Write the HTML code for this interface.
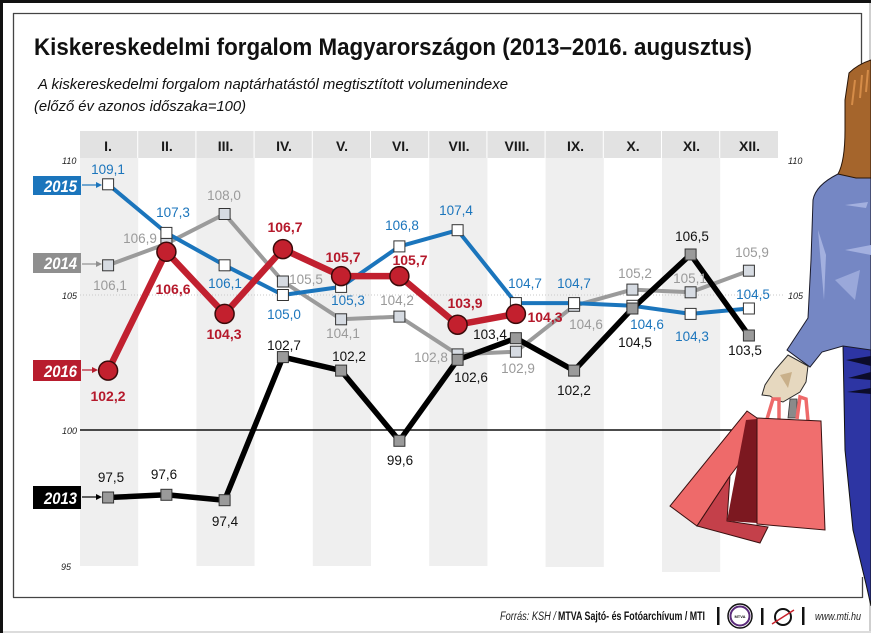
<!DOCTYPE html>
<html>
<head>
<meta charset="utf-8">
<style>
html,body{margin:0;padding:0;background:#fff;}
svg{display:block;}
text{font-family:"Liberation Sans",Arial,sans-serif;}
</style>
</head>
<body>
<svg width="871" height="633" viewBox="0 0 871 633" xmlns="http://www.w3.org/2000/svg">
<rect x="0" y="0" width="871" height="633" fill="#fff"/>
<!-- outer border -->
<rect x="0" y="0" width="871" height="3" fill="#111"/>
<rect x="0" y="0" width="3" height="633" fill="#111"/>
<rect x="869" y="3" width="2" height="630" fill="#cfcfcf"/>
<rect x="3" y="631" width="868" height="2" fill="#dcdcdc"/>

<!-- inner frame -->
<g stroke="#444" stroke-width="1.3" fill="none">
<line x1="13" y1="13.5" x2="861.5" y2="13.5"/>
<line x1="13.5" y1="13" x2="13.5" y2="597.5"/>
<line x1="13" y1="597.5" x2="862.5" y2="597.5"/>
<line x1="861.5" y1="13" x2="861.5" y2="64"/>
<line x1="862.5" y1="577" x2="862.5" y2="598"/>
</g>

<!-- title -->
<text x="34" y="55" font-size="24" font-weight="bold" fill="#111" textLength="718" lengthAdjust="spacingAndGlyphs">Kiskereskedelmi forgalom Magyarországon (2013–2016. augusztus)</text>
<text x="38" y="89" font-size="15" font-style="italic" fill="#111" textLength="470" lengthAdjust="spacingAndGlyphs">A kiskereskedelmi forgalom naptárhatástól megtisztított volumenindexe</text>
<text x="34" y="111" font-size="15" font-style="italic" fill="#111" textLength="212" lengthAdjust="spacingAndGlyphs">(előző év azonos időszaka=100)</text>

<!-- column shading -->
<g fill="#efefef">
<rect x="80" y="158" width="58.2" height="408"/>
<rect x="196.4" y="158" width="58.2" height="408"/>
<rect x="312.8" y="158" width="58.2" height="408"/>
<rect x="429.2" y="158" width="58.2" height="408"/>
<rect x="545.6" y="158" width="58.2" height="409"/>
<rect x="662" y="158" width="58.2" height="414"/>
</g>

<!-- header -->
<g fill="#e2e2e2">
<rect x="80" y="131" width="57.2" height="27"/>
<rect x="138.2" y="131" width="57.2" height="27"/>
<rect x="196.4" y="131" width="57.2" height="27"/>
<rect x="254.6" y="131" width="57.2" height="27"/>
<rect x="312.8" y="131" width="57.2" height="27"/>
<rect x="371" y="131" width="57.2" height="27"/>
<rect x="429.2" y="131" width="57.2" height="27"/>
<rect x="487.4" y="131" width="57.2" height="27"/>
<rect x="545.6" y="131" width="57.2" height="27"/>
<rect x="603.8" y="131" width="57.2" height="27"/>
<rect x="662" y="131" width="57.2" height="27"/>
<rect x="720.2" y="131" width="57.8" height="27"/>
</g>
<g font-size="14" font-weight="bold" fill="#1a1a1a" text-anchor="middle">
<text x="108" y="151">I.</text>
<text x="167" y="151">II.</text>
<text x="225.5" y="151">III.</text>
<text x="284" y="151">IV.</text>
<text x="342" y="151">V.</text>
<text x="400.5" y="151">VI.</text>
<text x="459" y="151">VII.</text>
<text x="517" y="151">VIII.</text>
<text x="575.5" y="151">IX.</text>
<text x="633" y="151">X.</text>
<text x="691.5" y="151">XI.</text>
<text x="749.5" y="151">XII.</text>
</g>

<!-- axis labels -->
<g font-size="9" font-style="italic" fill="#222">
<text x="62" y="164">110</text>
<text x="62" y="299">105</text>
<text x="62" y="434">100</text>
<text x="61" y="570">95</text>
<text x="788" y="164">110</text>
<text x="788" y="299">105</text>
</g>

<!-- gridlines -->
<line x1="80" y1="295" x2="783" y2="295" stroke="#c8c8c8" stroke-width="1" stroke-dasharray="1,2"/>
<line x1="80" y1="430" x2="740" y2="430" stroke="#111" stroke-width="1.6"/>

<!-- lines -->
<polyline fill="none" stroke="#9b9b9b" stroke-width="4" stroke-linejoin="round" points="108.1,265.3 166.4,243.7 224.6,214 282.9,281.5 341.1,319.3 399.4,316.6 457.6,354.4 515.9,351.7 574.1,305.8 632.4,289.6 690.6,292.3 748.9,270.7"/>
<polyline fill="none" stroke="#1b75bc" stroke-width="4" stroke-linejoin="round" points="108.1,184.3 166.4,232.9 224.6,265.3 282.9,295 341.1,286.9 399.4,246.4 457.6,230.2 515.9,303.1 574.1,303.1 632.4,305.8 690.6,313.9 748.9,308.5"/>
<polyline fill="none" stroke="#000" stroke-width="5.5" stroke-linejoin="round" points="108.1,497.5 166.4,494.8 224.6,500.2 282.9,357.1 341.1,370.6 399.4,440.8 457.6,359.8 515.9,338.2 574.1,370.6 632.4,308.5 690.6,254.5 748.9,335.5"/>
<polyline fill="none" stroke="#c1202f" stroke-width="6.5" stroke-linejoin="round" points="108.1,370.6 166.4,251.8 224.6,313.9 282.9,249.1 341.1,276.1 399.4,276.1 457.6,324.7 515.9,313.9"/>

<!-- markers 2014 -->
<g fill="#d6dbe2" stroke="#333" stroke-width="1">
<rect x="102.6" y="259.8" width="11" height="11"/>
<rect x="160.9" y="238.2" width="11" height="11"/>
<rect x="219.1" y="208.5" width="11" height="11"/>
<rect x="277.4" y="276" width="11" height="11"/>
<rect x="335.6" y="313.8" width="11" height="11"/>
<rect x="393.9" y="311.1" width="11" height="11"/>
<rect x="452.1" y="348.9" width="11" height="11"/>
<rect x="510.4" y="346.2" width="11" height="11"/>
<rect x="568.6" y="300.3" width="11" height="11"/>
<rect x="626.9" y="284.1" width="11" height="11"/>
<rect x="685.1" y="286.8" width="11" height="11"/>
<rect x="743.4" y="265.2" width="11" height="11"/>
</g>
<!-- markers 2015 -->
<g fill="#fff" stroke="#333" stroke-width="1">
<rect x="102.6" y="178.8" width="11" height="11"/>
<rect x="160.9" y="227.4" width="11" height="11"/>
<rect x="219.1" y="259.8" width="11" height="11"/>
<rect x="277.4" y="289.5" width="11" height="11"/>
<rect x="335.6" y="281.4" width="11" height="11"/>
<rect x="393.9" y="240.9" width="11" height="11"/>
<rect x="452.1" y="224.7" width="11" height="11"/>
<rect x="510.4" y="297.6" width="11" height="11"/>
<rect x="568.6" y="297.6" width="11" height="11"/>
<rect x="626.9" y="300.3" width="11" height="11"/>
<rect x="685.1" y="308.4" width="11" height="11"/>
<rect x="743.4" y="303" width="11" height="11"/>
</g>
<!-- markers 2013 -->
<g fill="#9a9a9a" stroke="#333" stroke-width="1">
<rect x="102.6" y="492" width="11" height="11"/>
<rect x="160.9" y="489.3" width="11" height="11"/>
<rect x="219.1" y="494.7" width="11" height="11"/>
<rect x="277.4" y="351.6" width="11" height="11"/>
<rect x="335.6" y="365.1" width="11" height="11"/>
<rect x="393.9" y="435.3" width="11" height="11"/>
<rect x="452.1" y="354.3" width="11" height="11"/>
<rect x="510.4" y="332.7" width="11" height="11"/>
<rect x="568.6" y="365.1" width="11" height="11"/>
<rect x="626.9" y="303" width="11" height="11"/>
<rect x="685.1" y="249" width="11" height="11"/>
<rect x="743.4" y="330" width="11" height="11"/>
</g>
<!-- markers 2016 -->
<g fill="#c3202e" stroke="#3a0a0a" stroke-width="1.5">
<circle cx="108.1" cy="370.6" r="9.5"/>
<circle cx="166.4" cy="251.8" r="9.5"/>
<circle cx="224.6" cy="313.9" r="9.5"/>
<circle cx="282.9" cy="249.1" r="9.5"/>
<circle cx="341.1" cy="276.1" r="9.5"/>
<circle cx="399.4" cy="276.1" r="9.5"/>
<circle cx="457.6" cy="324.7" r="9.5"/>
<circle cx="515.9" cy="313.9" r="9.5"/>
</g>

<!-- labels -->
<g font-size="13.5" fill="#1b75bc" text-anchor="middle">
<text x="108" y="174">109,1</text>
<text x="173" y="217">107,3</text>
<text x="225" y="288">106,1</text>
<text x="284" y="319">105,0</text>
<text x="348" y="305">105,3</text>
<text x="402" y="230">106,8</text>
<text x="456" y="215">107,4</text>
<text x="525" y="288">104,7</text>
<text x="574" y="288">104,7</text>
<text x="647" y="329">104,6</text>
<text x="692" y="341">104,3</text>
<text x="753" y="299">104,5</text>
</g>
<g font-size="13.5" fill="#9a9a9a" text-anchor="middle">
<text x="110" y="290">106,1</text>
<text x="140" y="243">106,9</text>
<text x="224" y="200">108,0</text>
<text x="306" y="284">105,5</text>
<text x="343" y="338">104,1</text>
<text x="397" y="305">104,2</text>
<text x="431" y="362">102,8</text>
<text x="518" y="373">102,9</text>
<text x="586" y="329">104,6</text>
<text x="635" y="278">105,2</text>
<text x="690" y="283">105,1</text>
<text x="752" y="257">105,9</text>
</g>
<g font-size="14" font-weight="bold" fill="#b5192b" text-anchor="middle">
<text x="108" y="401">102,2</text>
<text x="173" y="294">106,6</text>
<text x="224" y="339">104,3</text>
<text x="285" y="232">106,7</text>
<text x="343" y="262">105,7</text>
<text x="410" y="265">105,7</text>
<text x="465" y="308">103,9</text>
<text x="545" y="322">104,3</text>
</g>
<g font-size="13.5" fill="#111" text-anchor="middle">
<text x="111" y="482">97,5</text>
<text x="164" y="479">97,6</text>
<text x="225" y="526">97,4</text>
<text x="284" y="350">102,7</text>
<text x="349" y="361">102,2</text>
<text x="400" y="465">99,6</text>
<text x="471" y="382">102,6</text>
<text x="490" y="339">103,4</text>
<text x="574" y="395">102,2</text>
<text x="635" y="347">104,5</text>
<text x="692" y="241">106,5</text>
<text x="745" y="355">103,5</text>
</g>

<!-- legend boxes -->
<g font-size="16.5" font-weight="bold" font-style="italic" fill="#fff" text-anchor="end">
<rect x="33" y="176" width="48" height="19" fill="#1b75bc"/>
<text x="77" y="192" textLength="33" lengthAdjust="spacingAndGlyphs">2015</text>
<rect x="33" y="253" width="48" height="20" fill="#8f8f8f"/>
<text x="77" y="269" textLength="33" lengthAdjust="spacingAndGlyphs">2014</text>
<rect x="33" y="360" width="48" height="21" fill="#b81d2e"/>
<text x="77" y="377" textLength="33" lengthAdjust="spacingAndGlyphs">2016</text>
<rect x="33" y="486" width="48" height="23" fill="#000"/>
<text x="77" y="504" textLength="33" lengthAdjust="spacingAndGlyphs">2013</text>
</g>
<g stroke-width="1.2">
<line x1="82" y1="185" x2="97" y2="185" stroke="#1b75bc"/>
<polygon points="96,182 102,185 96,188" fill="#1b75bc"/>
<line x1="82" y1="264" x2="97" y2="264" stroke="#8f8f8f"/>
<polygon points="96,261 102,264 96,267" fill="#8f8f8f"/>
<line x1="82" y1="370" x2="93" y2="370" stroke="#b81d2e"/>
<polygon points="92,367 98,370 92,373" fill="#b81d2e"/>
<line x1="82" y1="497" x2="97" y2="497" stroke="#000"/>
<polygon points="96,494 102,497 96,500" fill="#000"/>
</g>

<!-- woman illustration -->
<!-- pants -->
<path d="M843,345 L871,348 L871,606 L866,584 L853,530 L845,450 Z" fill="#2d35a3" stroke="#111" stroke-width="1"/>
<path d="M846,360 L871,356 L871,366 Z" fill="#0c0c2a"/>
<path d="M848,378 L871,372 L871,380 Z" fill="#0c0c2a"/>
<path d="M847,392 L871,388 L871,394 Z" fill="#0c0c2a"/>
<!-- sweater -->
<path d="M838,174 C826,180 815,188 813,200 L811,260 L808,318 L787,350 L810,367 L822,352 L843,346 L871,350 L871,165 L856,170 Z" fill="#7587c4" stroke="#1a1a2a" stroke-width="1"/>
<path d="M818,230 L826,255 L824,300 Z" fill="#a3b0df"/>
<path d="M845,205 L868,202 L866,208 Z" fill="#a3b0df"/>
<path d="M835,280 L860,270 L855,300 Z" fill="#9aa8da"/>
<path d="M845,250 L871,245 L871,255 Z" fill="#a3b0df"/>
<!-- hair -->
<path d="M849,73 C856,66 865,62 871,60 L871,178 L856,178 L838,174 C843,165 845,150 845,130 L845,100 Z" fill="#a5652c" stroke="#2a1608" stroke-width="1"/>
<path d="M855,80 L852,105 M862,75 L860,98 M868,70 L866,92" stroke="#d58c48" stroke-width="2" fill="none"/>
<!-- hand -->
<path d="M788,355 L808,366 L806,382 L800,392 L783,402 L776,400 L770,396 L762,395 L765,385 L775,370 Z" fill="#e6d8bf" stroke="#2a2a2a" stroke-width="1"/>
<path d="M780,375 L792,372 L788,388 Z" fill="#c9b08a"/>
<!-- bags -->
<path d="M747,411 L757,418 L757,440 L730,476 L697,526 L670,506 Z" fill="#ee6a6a" stroke="#3a1010" stroke-width="1"/>
<path d="M730,476 L727,521 L768,527 L760,543 L697,526 Z" fill="#c4404a" stroke="#3a1010" stroke-width="1"/>
<path d="M746,420 L757,419 L757,523 L727,521 Z" fill="#7c1820"/>
<path d="M788,418 L790,399 L797,399 L797,418 Z" fill="#8a8a8a" stroke="#333" stroke-width="0.8"/>
<path d="M767,419 L773,399 L779,399 L779,419" fill="none" stroke="#ee6a6a" stroke-width="3.5"/>
<path d="M797,419 L800,397 L806,399 L808,421" fill="none" stroke="#ee6a6a" stroke-width="3.5"/>
<path d="M757,418 L821,421 L825,530 L757,524 Z" fill="#f06e6e" stroke="#3a1010" stroke-width="1"/>

<!-- footer -->
<text x="500" y="620" font-size="11.5" font-style="italic" fill="#222" textLength="56" lengthAdjust="spacingAndGlyphs">Forrás: KSH /</text>
<text x="558" y="620" font-size="11.5" font-weight="bold" fill="#111" textLength="147" lengthAdjust="spacingAndGlyphs">MTVA Sajtó- és Fotóarchívum / MTI</text>
<rect x="717" y="607" width="2.5" height="18" fill="#111"/>
<circle cx="740" cy="616" r="12" fill="none" stroke="#111" stroke-width="1.5"/>
<circle cx="740" cy="616" r="9.5" fill="none" stroke="#5a2a7a" stroke-width="2"/>
<text x="740" y="618" font-size="4" font-weight="bold" text-anchor="middle" fill="#111">MTVA</text>
<rect x="761" y="608" width="2.5" height="17" fill="#111"/>
<circle cx="783" cy="617" r="8" fill="none" stroke="#111" stroke-width="2"/>
<line x1="772" y1="624" x2="794" y2="610" stroke="#c8202a" stroke-width="1.5"/>
<rect x="802" y="607" width="2.5" height="18" fill="#111"/>
<text x="815" y="620" font-size="11" font-style="italic" fill="#222" textLength="46" lengthAdjust="spacingAndGlyphs">www.mti.hu</text>
</svg>
</body>
</html>
